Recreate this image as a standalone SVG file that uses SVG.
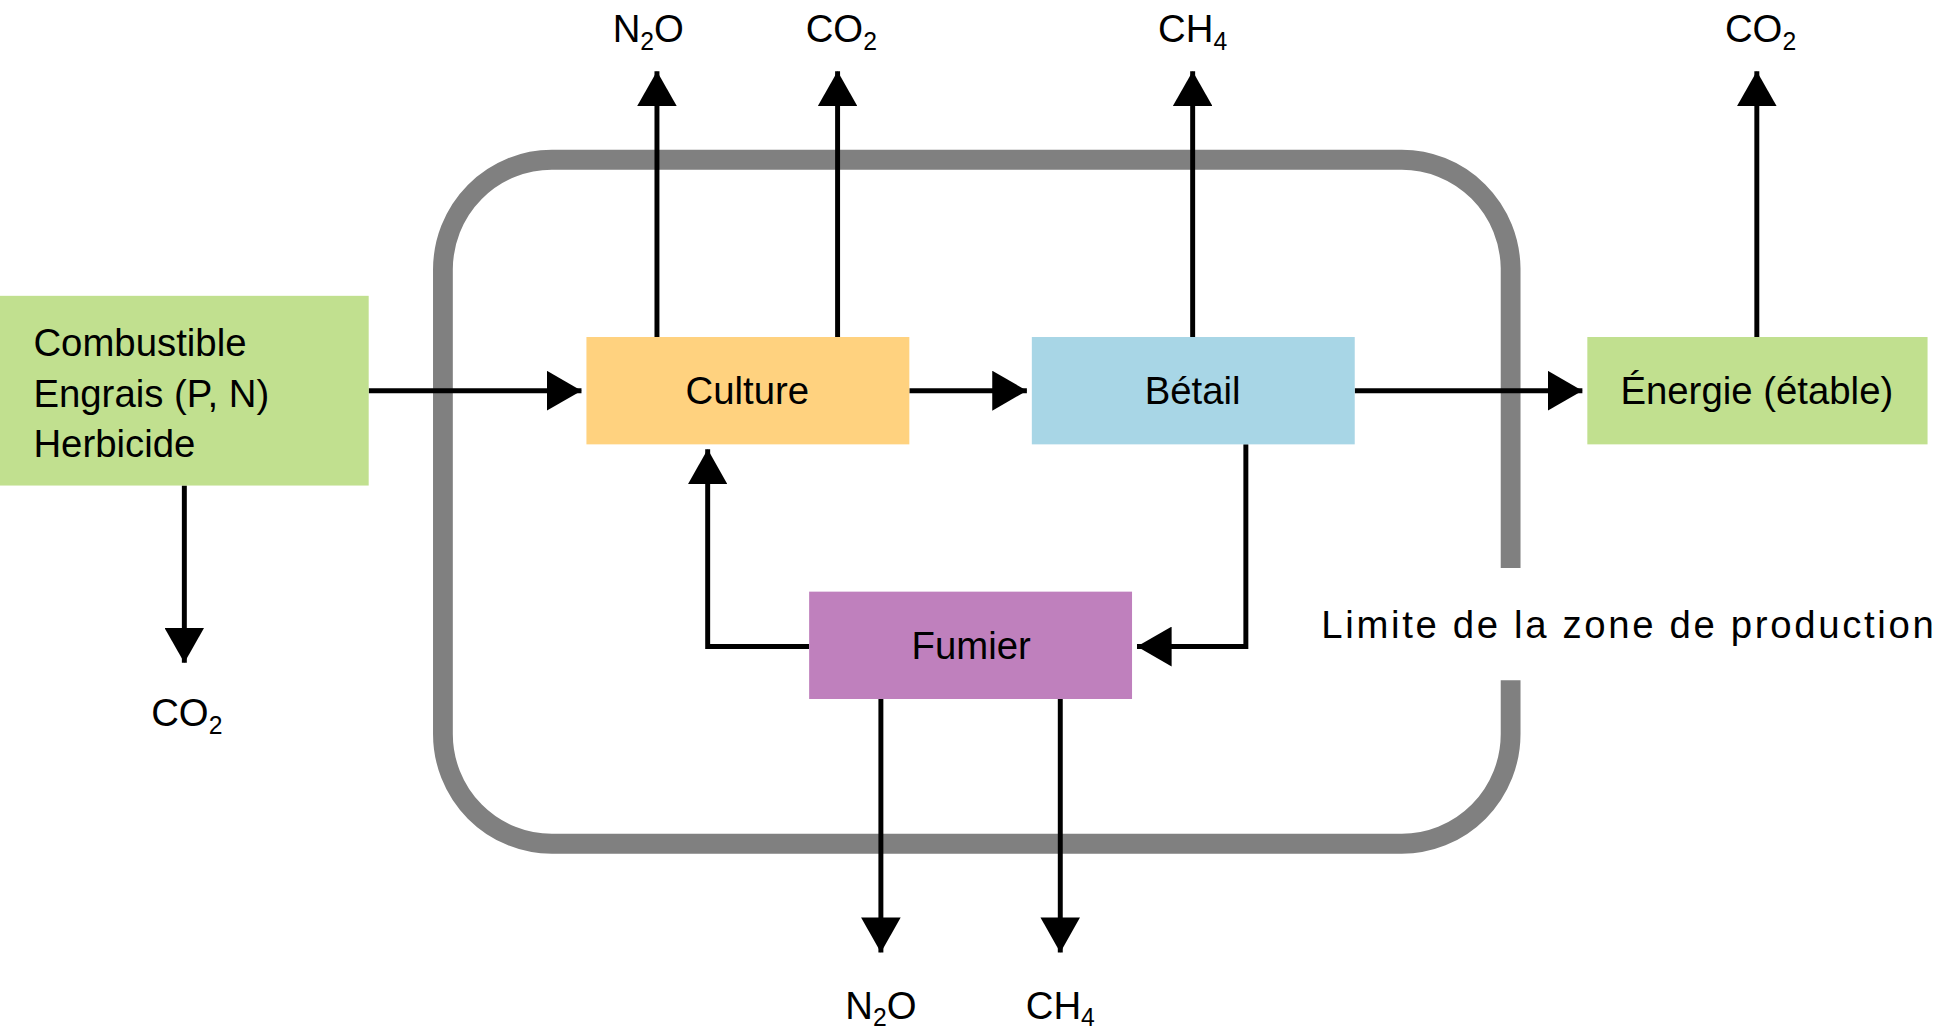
<svg xmlns="http://www.w3.org/2000/svg" width="1940" height="1036" viewBox="0 0 1940 1036">
<style>
text{font-family:"Liberation Sans",Arial,sans-serif;font-size:31px;fill:#000}
.c{text-anchor:middle}
.l{stroke:#000;stroke-width:4;fill:none}
sub{font-size:20px}
</style>
<defs>
<marker id="a" markerWidth="8" markerHeight="8" refX="7" refY="4" orient="auto" markerUnits="strokeWidth"><path d="M0,0 L7,4 L0,8 z" fill="#000"/></marker>
</defs>
<rect width="1940" height="1036" fill="#fff"/>
<g transform="scale(1.2372,1.2482)">
<path id="boundary" d="M1221,455 V215 A88,88 0 0 0 1133,128 H446 A88,88 0 0 0 358,216 V588 A88,88 0 0 0 446,676 H1133 A88,88 0 0 0 1221,588 V545" fill="none" stroke="#808080" stroke-width="16"/>
<g id="connectors">
<path class="l" d="M298,313 H470" marker-end="url(#a)"/>
<path class="l" d="M735,313 H830" marker-end="url(#a)"/>
<path class="l" d="M1095,313 H1279" marker-end="url(#a)"/>
<path class="l" d="M531,270 V57" marker-end="url(#a)"/>
<path class="l" d="M677,270 V57" marker-end="url(#a)"/>
<path class="l" d="M964,270 V57" marker-end="url(#a)"/>
<path class="l" d="M1420,270 V57" marker-end="url(#a)"/>
<path class="l" d="M149,389 V531" marker-end="url(#a)"/>
<path class="l" d="M1007,356 V518 H919" marker-end="url(#a)"/>
<path class="l" d="M654,518 H572 V360" marker-end="url(#a)"/>
<path class="l" d="M712,560 V763" marker-end="url(#a)"/>
<path class="l" d="M857,560 V763" marker-end="url(#a)"/>
</g>
<g id="inputs"><rect x="0" y="237" width="298" height="152" fill="#c1e08f"/>
<text x="27" y="285">Combustible</text><text x="27" y="326">Engrais (P, N)</text><text x="27" y="366">Herbicide</text></g>
<g id="culture"><rect x="474" y="270" width="261" height="86" fill="#ffd27f"/><text class="c" x="604" y="324">Culture</text></g>
<g id="betail"><rect x="834" y="270" width="261" height="86" fill="#a8d6e6"/><text class="c" x="964" y="324">Bétail</text></g>
<g id="energie"><rect x="1283" y="270" width="275" height="86" fill="#c1e08f"/><text class="c" x="1420" y="324">Énergie (étable)</text></g>
<g id="fumier"><rect x="654" y="474" width="261" height="86" fill="#bf80bd"/><text class="c" x="785" y="528">Fumier</text></g>
<g id="labels">
<text class="c" x="524" y="34">N<tspan font-size="20" dy="6">2</tspan><tspan dy="-6">O</tspan></text>
<text class="c" x="680" y="34">CO<tspan font-size="20" dy="6">2</tspan></text>
<text class="c" x="964" y="34">CH<tspan font-size="20" dy="6">4</tspan></text>
<text class="c" x="1423" y="34">CO<tspan font-size="20" dy="6">2</tspan></text>
<text class="c" x="151" y="582">CO<tspan font-size="20" dy="6">2</tspan></text>
<text class="c" x="712" y="816">N<tspan font-size="20" dy="6">2</tspan><tspan dy="-6">O</tspan></text>
<text class="c" x="857" y="816">CH<tspan font-size="20" dy="6">4</tspan></text>
<text x="1068" y="511" textLength="495">Limite de la zone de production</text>
</g>
</g>
</svg>
